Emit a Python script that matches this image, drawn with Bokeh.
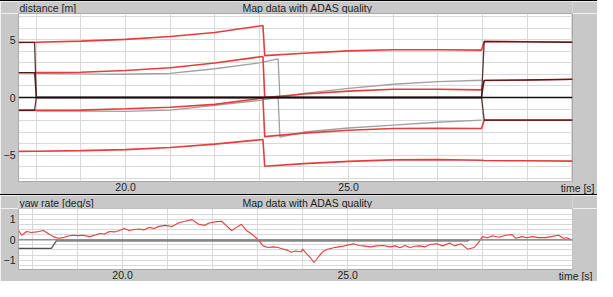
from bokeh.plotting import figure
from bokeh.models import Range1d, FixedTicker, Span, Label, Spacer, NumeralTickFormatter
from bokeh.layouts import column
from bokeh.embed import file_html
from bokeh.resources import INLINE

# ---------------- data: lateral distances of lane lines [m] ----------------
t_red = [17.6, 18.0, 19.0, 20.0, 21.0, 22.0, 23.08, 23.12, 24.0, 25.0, 26.0, 27.0, 27.98, 28.04, 29.0, 30.02]
red_ll = [4.78, 4.80, 4.90, 5.05, 5.30, 5.65, 6.26, 3.64, 3.85, 4.05, 4.15, 4.15, 4.12, 4.87, 4.84, 4.80]
red_l = [2.15, 2.16, 2.20, 2.35, 2.58, 3.00, 3.57, 0.00, 0.30, 0.55, 0.72, 0.72, 0.66, 1.48, 1.52, 1.58]
red_r = [-1.12, -1.12, -1.10, -0.98, -0.85, -0.60, -0.05, -3.40, -3.10, -2.85, -2.70, -2.68, -2.70, -1.97, -1.97, -1.97]
red_rr = [-4.68, -4.67, -4.62, -4.53, -4.35, -4.05, -3.65, -5.98, -5.75, -5.55, -5.42, -5.40, -5.45, -5.48, -5.50, -5.53]

t_dark = [17.6, 17.96, 18.0, 27.98, 28.04, 29.0, 30.02]
dark_ll = [4.79, 4.79, 0.0, 0.0, 4.87, 4.84, 4.80]
dark_l = [2.16, 2.16, 0.0, 0.0, 1.48, 1.52, 1.58]
dark_r = [-1.11, -1.11, 0.0, 0.0, -1.97, -1.97, -1.97]

t_gray = [18.0, 19.0, 20.0, 21.0, 22.0, 23.0, 23.42, 23.46, 24.0, 25.0, 26.0, 27.0, 27.98]
gray_l = [2.10, 2.05, 2.02, 2.10, 2.50, 3.00, 3.36, 0.00, 0.35, 0.80, 1.15, 1.38, 1.50]
gray_r = [-1.15, -1.18, -1.20, -1.10, -0.68, -0.25, 0.00, -3.45, -3.00, -2.65, -2.40, -2.15, -1.97]

# ---------------- data: yaw rate [deg/s] ----------------
t_yaw = [17.69, 17.76, 17.87, 17.98, 18.09, 18.24, 18.35, 18.46, 18.57, 18.68, 18.79, 18.90, 19.01, 19.12,
         19.27, 19.38, 19.49, 19.60, 19.71, 19.82, 19.93, 20.04, 20.15, 20.26, 20.37, 20.48, 20.59, 20.70,
         20.81, 20.95, 21.10, 21.25, 21.39, 21.54, 21.63, 21.69, 21.83, 21.91, 21.98, 22.09, 22.20, 22.31,
         22.42, 22.53, 22.64, 22.75, 22.82, 22.90, 23.01, 23.12, 23.23, 23.34, 23.45, 23.56, 23.67, 23.74,
         23.85, 23.96, 24.00, 24.07, 24.14, 24.18, 24.25, 24.31, 24.40, 24.47, 24.55, 24.69, 24.80, 24.91,
         25.02, 25.13, 25.24, 25.35, 25.50, 25.65, 25.79, 25.94, 26.05, 26.16, 26.27, 26.38, 26.49, 26.60,
         26.71, 26.82, 26.97, 27.11, 27.26, 27.37, 27.52, 27.66, 27.81, 27.92, 27.99, 28.10, 28.21, 28.36,
         28.51, 28.65, 28.73, 28.87, 28.98, 29.09, 29.24, 29.39, 29.52, 29.68, 29.79, 29.86, 29.97]
yaw_rate = [0.45, 0.22, 0.40, 0.35, 0.38, 0.45, 0.30, 0.15, 0.07, 0.10, 0.18, 0.22, 0.20, 0.22,
            0.15, 0.22, 0.30, 0.28, 0.40, 0.38, 0.45, 0.55, 0.45, 0.50, 0.52, 0.48, 0.60, 0.55,
            0.65, 0.70, 0.64, 0.83, 0.90, 0.98, 0.85, 0.75, 0.70, 0.80, 0.84, 0.88, 0.90, 0.67,
            0.45, 0.60, 0.75, 0.45, 0.35, 0.22, 0.00, -0.30, -0.38, -0.35, -0.38, -0.45, -0.52, -0.61,
            -0.55, -0.60, -0.46, -0.65, -0.80, -0.90, -1.11, -0.95, -0.69, -0.55, -0.46, -0.39, -0.35, -0.31,
            -0.25, -0.20, -0.28, -0.30, -0.35, -0.30, -0.28, -0.35, -0.30, -0.39, -0.28, -0.38, -0.32, -0.30,
            -0.35, -0.23, -0.20, -0.30, -0.16, -0.30, -0.20, -0.46, -0.38, -0.08, 0.15, 0.10, 0.19, 0.12,
            0.22, 0.25, 0.07, 0.15, 0.10, 0.15, 0.10, 0.10, 0.15, 0.22, 0.07, 0.10, 0.00]
t_yaw_ref = [17.69, 18.42, 18.53, 27.66, 27.70, 29.99]
yaw_ref = [-0.42, -0.42, -0.06, -0.06, 0.0, 0.0]

# ---------------- axes / ticks ----------------
x_labels_at = [20, 25]
x_grid_at = list(range(17, 31))
dist_labels_at = [-5, 0, 5]
dist_grid_at = list(range(-7, 8))
yaw_labels_at = [-1, 0, 1]
yaw_grid_at = [-1.25, -1.0, -0.75, -0.5, -0.25, 0.0, 0.25, 0.5, 0.75, 1.0, 1.25, 1.5]

TITLE = "Map data with ADAS quality"
BG = "#c8c8c8"
FONT = "Liberation Sans"
FS = "10.5px"
TXT = "#1e1e1e"
RED = "#e83c3c"
DARK = "#3a1414"
GRAY = "#a0a0a0"
GRID = "#d8d8d8"
W = 597


def style(p, ylabels, ygrid):
    p.background_fill_color = "white"
    p.border_fill_color = BG
    p.outline_line_color = "#a8a8a8"
    p.xaxis.ticker = FixedTicker(ticks=x_labels_at, minor_ticks=x_grid_at)
    p.yaxis.ticker = FixedTicker(ticks=ylabels, minor_ticks=ygrid)
    p.xaxis.formatter = NumeralTickFormatter(format="0.0")
    for ax in (p.xaxis, p.yaxis):
        ax.axis_line_color = None
        ax.major_tick_line_color = None
        ax.minor_tick_line_color = None
        ax.major_tick_out = 0
        ax.major_tick_in = 0
        ax.minor_tick_out = 0
        ax.minor_tick_in = 0
        ax.major_label_text_font = FONT
        ax.major_label_text_font_size = FS
        ax.major_label_text_color = TXT
    # the x tick labels share one row with the "time [s]" caption
    p.xaxis.major_label_standoff = -11
    p.yaxis.major_label_standoff = 3
    for g in (p.xgrid, p.ygrid):
        g.grid_line_color = GRID
        g.minor_grid_line_color = GRID


def mk_label(x, y, text, align):
    return Label(x=x, y=y, x_units="screen", y_units="screen", text=text,
                 text_font=FONT, text_font_size=FS, text_color=TXT,
                 text_align=align, text_baseline="middle")


def header(height, left_text, y):
    h = figure(width=W, height=height, output_backend="svg", toolbar_location=None,
               x_axis_type=None, y_axis_type=None, x_range=Range1d(0, W), y_range=Range1d(0, height),
               min_border=0, min_border_left=0, min_border_right=0, min_border_top=0, min_border_bottom=0)
    h.background_fill_color = BG
    h.border_fill_color = BG
    h.outline_line_color = None
    h.grid.visible = False
    h.add_layout(mk_label(1, y, left_text, "left"))
    h.add_layout(mk_label(289, y, TITLE, "center"))
    return h


def time_caption(p, x):
    # caption in its own side panel, placed next to the frame (inside the x-axis)
    p.below = [mk_label(x, 6, "time [s]", "right")] + list(p.below)


# ---------------- top panel ----------------
hdr1 = header(12, "distance [m]", 6)
p1 = figure(width=W, height=181, output_backend="svg", toolbar_location=None,
            x_range=Range1d(17.6, 30.02), y_range=Range1d(-7.3, 7.3),
            min_border_left=14, min_border_right=25, min_border_top=0, min_border_bottom=13)
style(p1, dist_labels_at, dist_grid_at)
p1.add_layout(Span(location=0, dimension="width", line_color="#101010", line_width=1.6))
for ys in (gray_l, gray_r):
    p1.line(t_gray, ys, line_color=GRAY, line_width=1.3)
for ys in (red_ll, red_l, red_r, red_rr):
    p1.line(t_red, ys, line_color=RED, line_width=1.6)
for ys in (dark_ll, dark_l, dark_r):
    p1.line(t_dark, ys, line_color=DARK, line_width=1.3, line_alpha=0.85)
time_caption(p1, 576)

# ---------------- bottom panel ----------------
hdr2 = header(13, "yaw rate [deg/s]", 6)
p2 = figure(width=W, height=73, output_backend="svg", toolbar_location=None,
            x_range=Range1d(17.69, 29.99), y_range=Range1d(-1.45, 1.52),
            min_border_left=17, min_border_right=21, min_border_top=0, min_border_bottom=12)
style(p2, yaw_labels_at, yaw_grid_at)
p2.add_layout(Span(location=0, dimension="width", line_color="#909090", line_width=1.5))
p2.line(t_yaw_ref, yaw_ref, line_color="#505050", line_width=1.2)
p2.line(t_yaw, yaw_rate, line_color=RED, line_width=1.1)
time_caption(p2, 574)

top_line = Spacer(width=W, height=1, styles={"background-color": "black"})
sep_line = Spacer(width=W, height=1, styles={"background-color": "black"})
layout = column(top_line, hdr1, p1, sep_line, hdr2, p2, spacing=0)

open("out.html", "w").write(file_html(layout, INLINE))
